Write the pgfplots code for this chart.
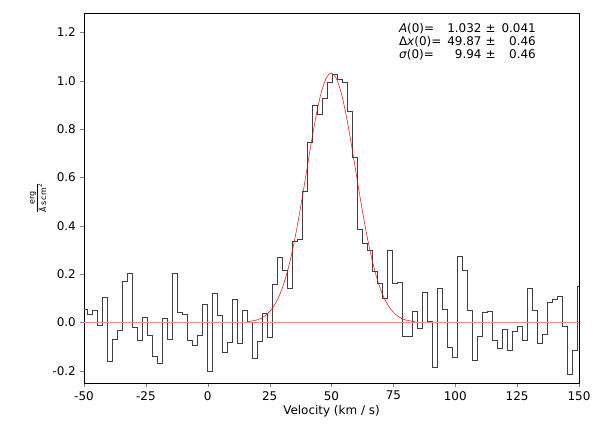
\documentclass[border=0pt]{standalone}
\usepackage{pgfplots}
\pgfplotsset{compat=1.18}
\usepackage{fontspec}
\setmainfont{DejaVu Sans}
\begin{document}
\fontsize{12}{14}\selectfont
\begin{tikzpicture}
\path (-84bp,-53bp) rectangle (519bp,383bp);
\begin{axis}[at={(0,0)},anchor=south west,scale only axis,width=495bp,height=370bp,
 xmin=-50,xmax=150,ymin=-0.25,ymax=1.28,
 xtick={-50,-25,0,25,50,75,100,125,150},
 ytick={-0.2,0,0.2,0.4,0.6,0.8,1.0,1.2},
 yticklabel style={/pgf/number format/.cd,fixed,fixed zerofill,precision=1},
 /pgf/number format/assume math mode=true,
 tick label style={font=\fontsize{12}{14}\selectfont},
 label style={font=\fontsize{12}{14}\selectfont},
 tick align=outside, tick pos=left, major tick length=4bp,
 xlabel={Velocity (km / s)},
 xlabel style={yshift=3bp},
 ylabel={$\frac{\mathrm{erg}}{\mathrm{\AA\,s\,cm^{2}}}$},
 ylabel style={yshift=-2bp},
 axis line style={line width=0.8bp},
 clip=true]
\addplot[const plot, color=black!75, line width=0.7bp] coordinates {
(-50,0.055)(-48.70,0.035)(-46.68,0.051)(-44.66,-0.010)(-42.64,0.104)(-40.62,-0.159)(-38.60,-0.070)(-36.58,-0.032)(-34.56,0.171)(-32.54,0.205)(-30.52,-0.018)(-28.50,-0.072)(-26.48,0.022)(-24.46,-0.053)(-22.44,-0.140)(-20.42,-0.169)(-18.40,0.018)(-16.38,-0.069)(-14.36,0.205)(-12.34,0.044)(-10.32,0.032)(-8.30,-0.072)(-6.28,-0.094)(-4.26,-0.053)(-2.24,0.077)(-0.22,-0.200)(1.80,0.119)(3.82,0.029)(5.84,-0.122)(7.86,-0.080)(9.88,0.097)(11.90,-0.084)(13.92,0.051)(15.94,0.000)(17.96,-0.148)
(19.98,-0.079)(22.00,0.036)(24.02,-0.062)(26.04,0.156)(28.06,0.271)(30.08,0.214)(32.10,0.140)(34.12,0.335)(36.14,0.346)(38.16,0.542)(40.18,0.747)(42.20,0.900)(44.22,0.859)(46.24,0.925)(48.26,0.995)(50.28,1.025)(52.30,1.004)(54.32,0.995)(56.34,0.874)(58.36,0.682)(60.38,0.385)(62.40,0.328)(64.42,0.297)(66.44,0.210)(68.46,0.162)(70.48,0.098)(72.50,0.297)
(74.52,0.162)(76.54,0.165)(78.56,-0.059)(80.58,-0.059)(82.60,0.048)(84.62,-0.022)(86.64,0.123)(88.66,0.007)
(90.68,-0.184)(92.70,0.142)(94.72,0.053)(96.74,-0.101)(98.76,-0.142)(100.78,0.274)(102.80,0.214)(104.82,0.049)(106.84,-0.158)(108.86,-0.059)(110.88,0.043)(112.90,0.046)(114.92,-0.075)(116.94,-0.105)(118.96,-0.030)(120.98,-0.116)(123.00,-0.037)(125.02,-0.014)(127.04,-0.075)(129.06,0.140)(131.08,0.049)(133.10,-0.084)(135.12,-0.047)(137.14,0.082)(139.16,0.094)(141.18,0.107)(143.20,-0.014)(145.22,-0.213)(147.24,-0.113)(149.26,0.148)(150,0.148)};
\addplot[red!45, line width=0.5bp] coordinates {(-50,0)(150,0)};
\addplot[smooth, red, line width=0.5bp] coordinates {
(15.87,0.003)(19.87,0.0108)(21.87,0.0195)(23.87,0.0338)(25.87,0.0559)(27.87,0.0892)(29.87,0.136)(31.87,0.200)(33.87,0.282)(35.87,0.383)(37.87,0.498)(39.87,0.622)(41.87,0.746)(43.87,0.860)(45.87,0.952)(47.87,1.011)(49.87,1.032)
(51.87,1.011)(53.87,0.952)(55.87,0.860)(57.87,0.746)(59.87,0.622)(61.87,0.498)(63.87,0.383)(65.87,0.282)(67.87,0.200)(69.87,0.136)(71.87,0.0892)(73.87,0.0559)(75.87,0.0338)(77.87,0.0195)(79.87,0.0108)(83.87,0.003)};
\node[anchor=north west,inner sep=0pt,align=left,font=\fontsize{12}{14}\selectfont] at (rel axis cs:0.636,0.975) {%
\begin{tabular}{@{}l@{\hspace{6bp}}r@{\hspace{4bp}}l@{\hspace{6bp}}r@{}}
\textit{A}(0)= & 1.032 & ± & 0.041\\[-1pt]
Δ\textit{x}(0)= & 49.87 & ± & 0.46\\[-1pt]
\textit{σ}(0)= & 9.94 & ± & 0.46
\end{tabular}};
\end{axis}
\end{tikzpicture}
\end{document}
